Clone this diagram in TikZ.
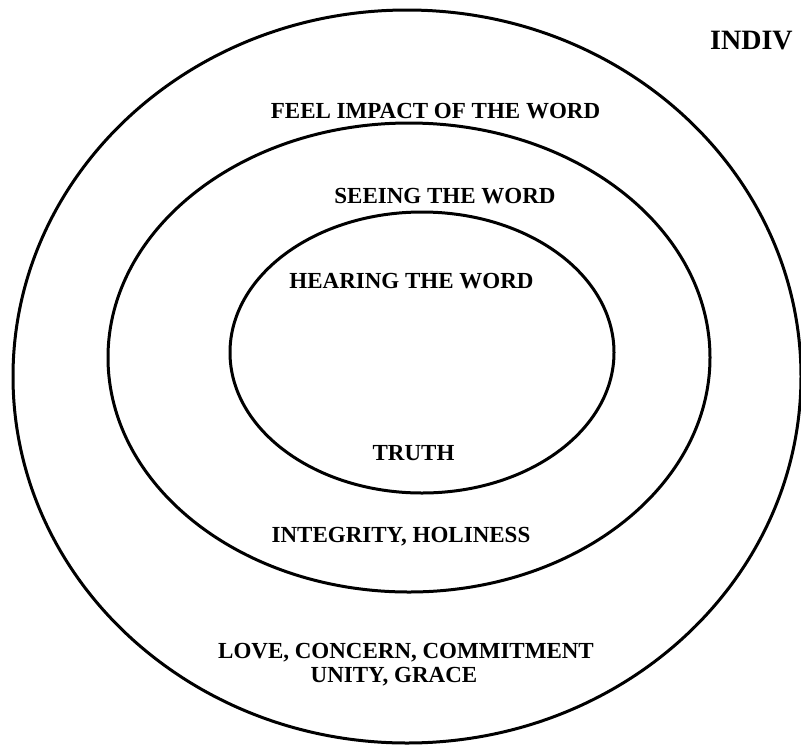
\documentclass[tikz,border=0pt]{standalone}
\usepackage{fontspec}
\setmainfont{Liberation Serif}
\begin{document}
\begin{tikzpicture}[x=1pt,y=-1pt,
  ring/.style={draw=black,line width=3pt},
  lbl/.style={font=\fontsize{23}{24}\selectfont\bfseries,inner sep=0pt,anchor=base}]
\useasboundingbox (0,0) rectangle (801,748);
\fill[white] (0,0) rectangle (801,748);
\coordinate (co) at (407,376.5);
\coordinate (cm) at (409,357.5);
\coordinate (ci) at (422,352.5);
\draw[ring] (co) ellipse [x radius=394, y radius=366.5];
\draw[ring] (cm) ellipse [x radius=301, y radius=234.5];
\draw[ring] (ci) ellipse [x radius=192, y radius=140.5];
\node[lbl,anchor=base west,font=\fontsize{28}{30}\selectfont\bfseries] (indiv) at (710,49) {INDIV};
\node[lbl] (feel) at (435.5,118) {FEEL IMPACT OF THE WORD};
\node[lbl] (seeing) at (445,203) {SEEING THE WORD};
\node[lbl] (hearing) at (411.5,288) {HEARING THE WORD};
\node[lbl] (truth) at (413.5,460) {TRUTH};
\node[lbl] (integ) at (401,542) {INTEGRITY, HOLINESS};
\node[lbl] (love) at (406,658) {LOVE, CONCERN, COMMITMENT};
\node[lbl] (unity) at (394,682) {UNITY, GRACE};
\end{tikzpicture}
\end{document}
